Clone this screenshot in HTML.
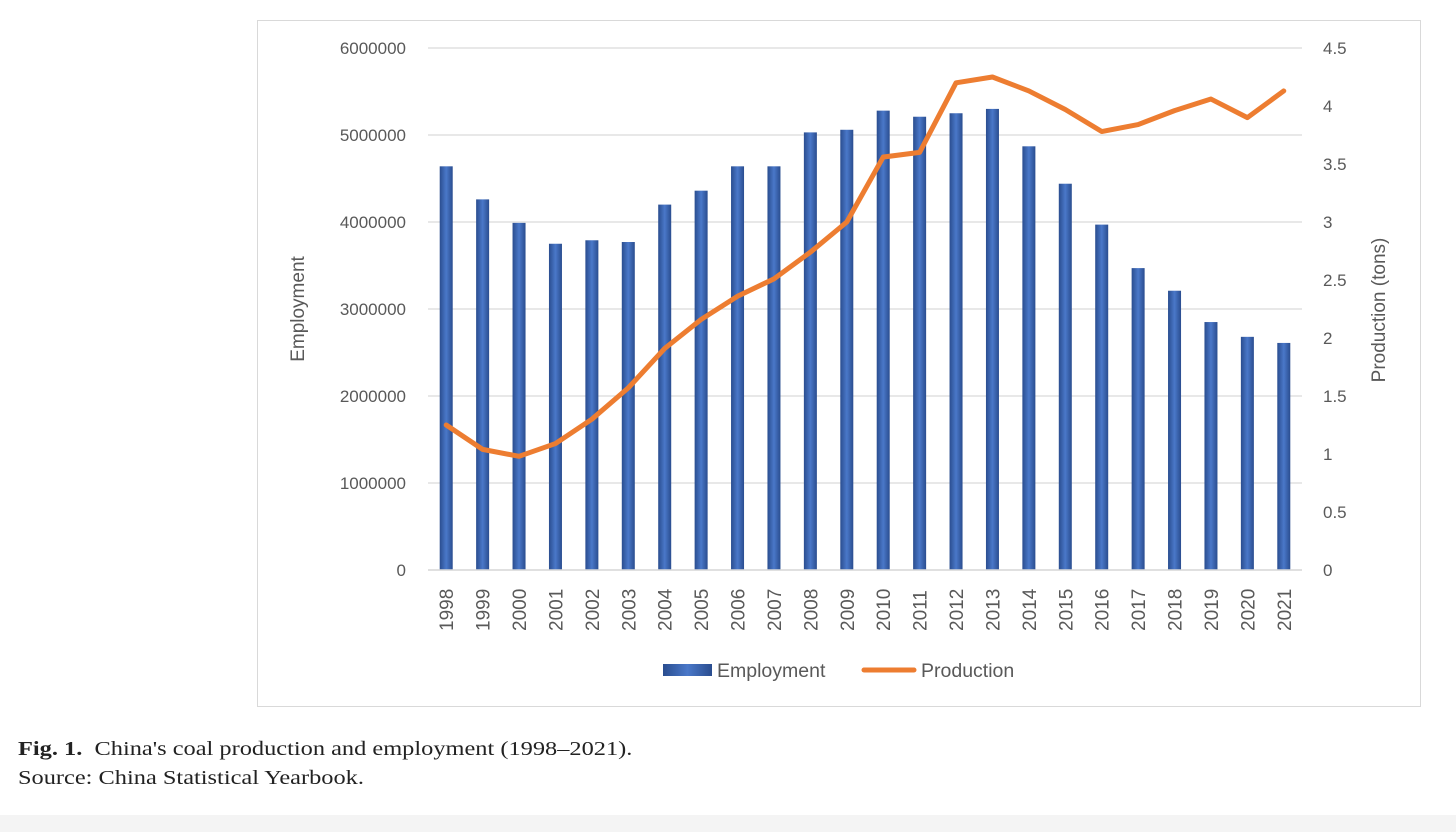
<!DOCTYPE html>
<html><head><meta charset="utf-8"><style>
body{margin:0;width:1456px;height:832px;background:#fff;overflow:hidden;position:relative;font-family:"Liberation Sans",sans-serif}
#frame{position:absolute;left:257px;top:20px;width:1164px;height:687px;border:1px solid #d9d9d9;box-sizing:border-box}
.cap{position:absolute;left:18px;font-family:"Liberation Serif",serif;font-size:19.5px;color:#222;transform-origin:0 0;transform:scaleX(1.25);white-space:nowrap}
#strip{position:absolute;left:0;top:815px;width:1456px;height:17px;background:#f4f4f4}
</style></head><body>
<div id="frame"></div>
<svg id="chart" width="1456" height="832" style="position:absolute;left:0;top:0">
<defs><linearGradient id="bg" x1="0" x2="1" y1="0" y2="0">
<stop offset="0" stop-color="#2a4d8f"/><stop offset="0.5" stop-color="#4a78c9"/><stop offset="1" stop-color="#2a4d8f"/></linearGradient></defs>
<g id="grid"></g><g id="bars"></g><g id="line"></g><g id="axes"></g>
</svg>
<div class="cap" style="top:739px"><b>Fig. 1.</b>&nbsp; China's coal production and employment (1998–2021).</div>
<div class="cap" style="top:768px">Source: China Statistical Yearbook.</div>
<div id="strip"></div>
<script>
const years=[1998,1999,2000,2001,2002,2003,2004,2005,2006,2007,2008,2009,2010,2011,2012,2013,2014,2015,2016,2017,2018,2019,2020,2021];
const employment=[4640000,4260000,3990000,3750000,3790000,3770000,4200000,4360000,4640000,4640000,5030000,5060000,5280000,5210000,5250000,5300000,4870000,4440000,3970000,3470000,3210000,2850000,2680000,2610000];
const production=[1.25,1.04,0.98,1.09,1.30,1.57,1.91,2.16,2.36,2.51,2.74,3.0,3.56,3.6,4.2,4.25,4.13,3.97,3.78,3.84,3.96,4.06,3.9,4.13];
const leftTicks=[0,1000000,2000000,3000000,4000000,5000000,6000000];
const rightTicks=["0","0.5","1","1.5","2","2.5","3","3.5","4","4.5"];
const NS="http://www.w3.org/2000/svg";
const x0=428,x1=1302,y0=570,yTop=48;
const bw=(x1-x0)/years.length;
const xc=i=>x0+bw*(i+0.5);
const yL=v=>y0-(v/6000000)*(y0-yTop);
const yR=v=>y0-(v/4.5)*(y0-yTop);
function mk(t,a,p,txt){const e=document.createElementNS(NS,t);for(const k in a)e.setAttribute(k,a[k]);if(txt!==undefined)e.textContent=txt;p.appendChild(e);return e;}
const grid=document.getElementById('grid'),bars=document.getElementById('bars'),line=document.getElementById('line'),axes=document.getElementById('axes');
leftTicks.forEach(v=>{
 const l=mk('line',{x1:x0,x2:x1,y1:yL(v),y2:yL(v),stroke:'#d9d9d9','stroke-width':1.3},grid);
 
 
 const t=mk('text',{x:406,y:yL(v)+6,'text-anchor':'end','font-size':17,fill:'#595959'},axes,String(v));
 
 
});
rightTicks.forEach(s=>{
 const t=mk('text',{x:1323,y:yR(parseFloat(s))+6,'font-size':17,fill:'#595959'},axes,s);
 
 
});
years.forEach((yr,i)=>{
 const h=y0-yL(employment[i]);
 const r=mk('rect',{x:xc(i)-6.5,y:yL(employment[i]),width:13,height:h,fill:'url(#bg)'},bars);
 
 
 const t=mk('text',{transform:`translate(${xc(i)+7},631) rotate(-90)`,'font-size':19,fill:'#595959'},axes,String(yr));
 
 
});
const pl=mk('polyline',{points:production.map((v,i)=>xc(i)+','+yR(v)).join(' '),fill:'none',stroke:'#ed7d31','stroke-width':5,'stroke-linejoin':'round','stroke-linecap':'round'},line);


const ax=mk('line',{x1:x0,x2:x1,y1:y0,y2:y0,stroke:'#d9d9d9','stroke-width':1.5},axes);


const t1=mk('text',{transform:'translate(304,309) rotate(-90)','text-anchor':'middle','font-size':19,fill:'#595959'},axes,'Employment');


const t2=mk('text',{transform:'translate(1385,310) rotate(-90)','text-anchor':'middle','font-size':19,fill:'#595959'},axes,'Production (tons)');


const ls=mk('rect',{x:663,y:664,width:49,height:12,fill:'url(#bg)'},axes);


const lt=mk('text',{x:717,y:677,'font-size':19.5,fill:'#595959'},axes,'Employment');


const ll=mk('line',{x1:864,x2:914,y1:670,y2:670,stroke:'#ed7d31','stroke-width':5,'stroke-linecap':'round'},axes);


const lp=mk('text',{x:921,y:677,'font-size':19.5,fill:'#595959'},axes,'Production');


</script>
</body></html>
